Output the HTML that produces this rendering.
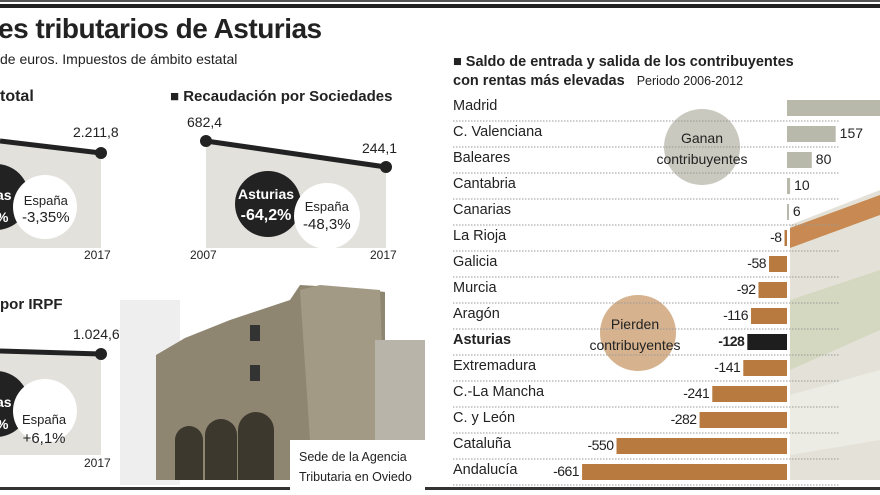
<!DOCTYPE html>
<html><head><meta charset="utf-8"><style>
body{margin:0;width:880px;height:495px;overflow:hidden;background:#fff;font-family:"Liberation Sans",sans-serif;position:relative}
.t{position:absolute;white-space:nowrap;color:#222}
</style></head><body>
<svg width="880" height="495" style="position:absolute;left:0;top:0">
<rect x="0" y="0" width="880" height="2" fill="#555"/>
<rect x="0" y="4" width="880" height="4" fill="#222"/>
<rect x="0" y="487" width="880" height="3" fill="#333"/>
<g>
<rect x="120" y="300" width="60" height="185" fill="#eee"/>
<polygon points="156,355 185,338 230,320 290,300 300,285 350,288 385,292 385,480 156,480" fill="#8f8672"/>
<polygon points="300,290 320,285 380,290 385,440 310,440" fill="#a39a86"/>
<rect x="375" y="340" width="50" height="100" fill="#b8b4aa"/>
<path d="M175 480 v-40 a14 14 0 0 1 28 0 v40z M205 480 v-45 a16 16 0 0 1 32 0 v45z M238 480 v-50 a18 18 0 0 1 36 0 v50z" fill="#3c382e"/>
<rect x="250" y="325" width="10" height="16" fill="#333"/><rect x="250" y="365" width="10" height="16" fill="#333"/>
</g>
<rect x="290" y="440" width="135" height="50" fill="#fff"/>
<g>
<polygon points="790,225 880,190 880,480 790,480" fill="#e4e2d8"/>
<polygon points="790,228 880,195 880,215 790,248" fill="#c88a52"/>
<polygon points="790,300 880,270 880,330 790,370" fill="#d4d8c0"/>
<polygon points="790,395 880,370 880,440 790,455" fill="#ecece4"/>
</g>
<g>
<polygon points="0,141 101,153 101,248 0,248" fill="#e2e1dc"/>
<line x1="0" y1="141" x2="101" y2="153" stroke="#222" stroke-width="5"/>
<circle cx="101" cy="153" r="6" fill="#222"/>
<circle cx="-4" cy="197" r="33" fill="#222"/>
<circle cx="45" cy="207" r="32" fill="#fff"/>
</g>
<g>
<polygon points="206,141 386,167 386,248 206,248" fill="#e2e1dc"/>
<line x1="206" y1="141" x2="386" y2="167" stroke="#222" stroke-width="5"/>
<circle cx="206" cy="141" r="6" fill="#222"/><circle cx="386" cy="167" r="6" fill="#222"/>
<circle cx="268" cy="204" r="33" fill="#222"/>
<circle cx="327" cy="216" r="33" fill="#fff"/>
</g>
<g>
<polygon points="0,351 101,354 101,455 0,455" fill="#e2e1dc"/>
<line x1="0" y1="351" x2="101" y2="354" stroke="#222" stroke-width="5"/>
<circle cx="101" cy="354" r="6" fill="#222"/>
<circle cx="-4" cy="404" r="33" fill="#222"/>
<circle cx="45" cy="411" r="32" fill="#fff"/>
</g>
<circle cx="702" cy="147" r="38" fill="#c9c9bf"/>
<circle cx="638" cy="333" r="38" fill="#d6b38e"/>
<g id="bars"></g>
</svg>
<div class="t" style="left:-2px;top:13px;font-size:28px;font-weight:bold;letter-spacing:-0.5px">es tributarios de Asturias</div>
<div class="t" style="left:0;top:51px;font-size:14px">de euros. Impuestos de ámbito estatal</div>
<div class="t" style="left:0;top:88px;font-size:16px;font-weight:bold">total</div>
<div class="t" style="left:73px;top:124px;font-size:14px">2.211,8</div>
<div class="t" style="left:84px;top:248px;font-size:12px">2017</div>
<div class="t" style="left:-4px;top:184px;font-size:14px;color:#fff;font-weight:bold;line-height:22px">as<br>%</div>
<div class="t" style="left:22px;top:192px;font-size:13px;text-align:center;line-height:17px">España<br><span style="font-size:15px">-3,35%</span></div>
<div class="t" style="left:170px;top:88px;font-size:15px;font-weight:bold">■ Recaudación por Sociedades</div>
<div class="t" style="left:187px;top:114px;font-size:14px">682,4</div>
<div class="t" style="left:362px;top:140px;font-size:14px">244,1</div>
<div class="t" style="left:238px;top:184px;font-size:14px;color:#fff;text-align:center;line-height:21px;font-weight:bold">Asturias<br><span style="font-size:16px">-64,2%</span></div>
<div class="t" style="left:303px;top:198px;font-size:13px;text-align:center;line-height:18px">España<br><span style="font-size:15px">-48,3%</span></div>
<div class="t" style="left:190px;top:248px;font-size:12px">2007</div>
<div class="t" style="left:370px;top:248px;font-size:12px">2017</div>
<div class="t" style="left:0;top:296px;font-size:15px;font-weight:bold">por IRPF</div>
<div class="t" style="left:73px;top:326px;font-size:14px">1.024,6</div>
<div class="t" style="left:-4px;top:391px;font-size:14px;color:#fff;font-weight:bold;line-height:22px">as<br>%</div>
<div class="t" style="left:22px;top:410px;font-size:13px;text-align:center;line-height:19px">España<br><span style="font-size:15px">+6,1%</span></div>
<div class="t" style="left:84px;top:456px;font-size:12px">2017</div>
<div class="t" style="left:299px;top:447px;font-size:12.5px;line-height:20px">Sede de la Agencia<br>Tributaria en Oviedo</div>
<div class="t" style="left:453px;top:53px;font-size:14.5px;font-weight:bold;line-height:19px">■ Saldo de entrada y salida de los contribuyentes<br>con rentas más elevadas <span style="font-weight:normal;font-size:12.5px;margin-left:8px">Periodo 2006-2012</span></div>
<div class="t" style="left:652px;top:128px;font-size:14px;text-align:center;line-height:21px;width:100px">Ganan<br>contribuyentes</div>
<div class="t" style="left:575px;top:314px;font-size:14px;text-align:center;line-height:21px;width:120px">Pierden<br>contribuyentes</div>
<div id="labels"></div>
<script>
const regions=["Madrid","C. Valenciana","Baleares","Cantabria","Canarias","La Rioja","Galicia","Murcia","Aragón","Asturias","Extremadura","C.-La Mancha","C. y León","Cataluña","Andalucía"];
const saldo=[400,157,80,10,6,-8,-58,-92,-116,-128,-141,-241,-282,-550,-661];
const valueLabels=["","157","80","10","6","-8","-58","-92","-116","-128","-141","-241","-282","-550","-661"];
const x0=787,k=0.31,y0=108,step=26,bh=16;
const xs=v=>x0+v*k, ys=i=>y0+i*step;
const NS="http://www.w3.org/2000/svg";
const g=document.getElementById('bars'), L=document.getElementById('labels');
regions.forEach((r,i)=>{
 const y=ys(i);
 const ln=document.createElementNS(NS,'line');
 ln.setAttribute('x1',453);ln.setAttribute('x2',840);ln.setAttribute('y1',y+13);ln.setAttribute('y2',y+13);
 ln.setAttribute('stroke','#999');ln.setAttribute('stroke-dasharray','1.5 1.5');ln.setAttribute('stroke-width','1');
 
 
 g.appendChild(ln);
 const v=saldo[i];
 const rc=document.createElementNS(NS,'rect');
 const a=Math.min(xs(0),xs(v)),w=Math.abs(xs(v)-xs(0));
 rc.setAttribute('x',a);rc.setAttribute('y',y-bh/2);rc.setAttribute('width',Math.max(w,2));rc.setAttribute('height',bh);
 rc.setAttribute('fill',r==="Asturias"?"#1e1e1e":(v>=0?"#b9b9ab":"#b87a3e"));
 
 
 g.appendChild(rc);
 const d=document.createElement('div');
 d.className='t';d.textContent=r;
 d.style.cssText=`left:453px;top:${y-10}px;font-size:14.5px;${r==="Asturias"?"font-weight:bold":""}`;
 
 
 L.appendChild(d);
 if(valueLabels[i]){
  const t=document.createElement('div');t.className='t';t.textContent=valueLabels[i];
  t.style.cssText=`top:${y-9}px;font-size:14px;${r==="Asturias"?"font-weight:bold;":""}`+(v>=0?`left:${xs(v)+4}px`:`right:${880-xs(v)+3}px;letter-spacing:-0.5px`);
  
  
  L.appendChild(t);
 }
});
</script>
</body></html>
